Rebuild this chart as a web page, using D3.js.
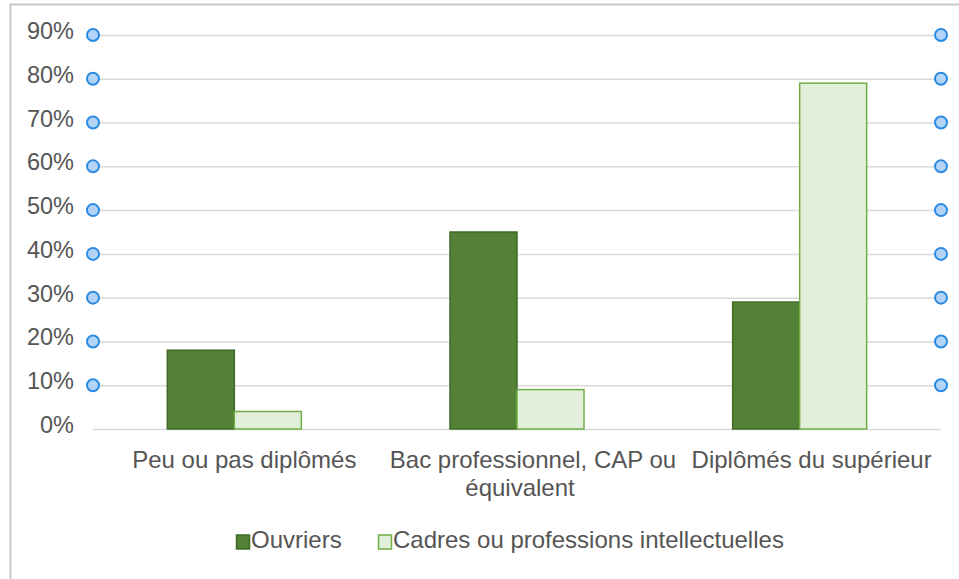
<!DOCTYPE html>
<html lang="fr">
<head>
<meta charset="utf-8">
<script src="https://cdn.jsdelivr.net/npm/d3@7"></script>
<style>
  body { margin: 0; background: #fff; }
  text { font-family: "Liberation Sans", Arial, Helvetica, sans-serif; fill: #555555; }
</style>
</head>
<body>
<svg id="chart" width="959" height="579"></svg>
<script>
var categories = ["Peu ou pas diplômés", "Bac professionnel, CAP ou équivalent", "Diplômés du supérieur"];
var categoryLines = [["Peu ou pas diplômés"], ["Bac professionnel, CAP ou", "équivalent"], ["Diplômés du supérieur"]];
var seriesNames = ["Ouvriers", "Cadres ou professions intellectuelles"];
var ouvriers = [0.18, 0.45, 0.29];
var cadres = [0.04, 0.09, 0.79];
var yTicks = [0, 0.1, 0.2, 0.3, 0.4, 0.5, 0.6, 0.7, 0.8, 0.9];

var fills = ["#538135", "#e2efda"];
var strokes = ["#3f6a27", "#70ad47"];

var svg = d3.select("#chart");

// cadre gris
svg.append("path")
    .attr("d", "M10.5,579 V4.5 H959")
    .attr("fill", "none")
    .attr("stroke", "#c8c8c8")
    .attr("stroke-width", 2);

var plotLeft = 93, plotRight = 941, plotTop = 35, plotBottom = 429;

var x = d3.scaleBand().domain(categories).range([plotLeft, plotRight]);
var y = d3.scaleLinear().domain([0, 0.9]).range([plotBottom, plotTop]);
var barW = 67;

// lignes de grille
svg.selectAll(".grid")
    .data(yTicks)
    .enter()
    .append("line")
    .attr("class", "grid")
    .attr("x1", plotLeft).attr("x2", plotRight)
    .attr("y1", function(d){ return y(d) + 0.5; })
    .attr("y2", function(d){ return y(d) + 0.5; })
    .attr("stroke", "#d9d9d9")
    .attr("stroke-width", 1.5);

// étiquettes axe y
var yAxis = d3.axisLeft(y).tickValues(yTicks).tickFormat(d3.format(".0%")).tickSize(0).tickPadding(0);
var gy = svg.append("g").attr("transform", "translate(74,-4)").call(yAxis);
gy.select(".domain").remove();
gy.selectAll("text")
    .style("font-size", "23.5px")
    .style("font-family", "\"Liberation Sans\", Arial, sans-serif")
    .attr("fill", "#555555");

// barres
var series = [ouvriers, cadres];
series.forEach(function(vals, s){
    svg.selectAll(".bar" + s)
        .data(vals)
        .enter()
        .append("rect")
        .attr("class", "bar" + s)
        .attr("x", function(d, i){ return x(categories[i]) + x.bandwidth()/2 - barW + s*barW; })
        .attr("y", function(d){ return y(d); })
        .attr("width", barW)
        .attr("height", function(d){ return plotBottom - y(d); })
        .attr("fill", fills[s])
        .attr("stroke", strokes[s])
        .attr("stroke-width", 1.5);
});

// cercles bleus aux graduations
[plotLeft, plotRight].forEach(function(cx, k){
    svg.selectAll(".dot" + k)
        .data(yTicks.filter(function(d){ return d > 0; }))
        .enter()
        .append("circle")
        .attr("class", "dot" + k)
        .attr("cx", cx)
        .attr("cy", function(d){ return y(d); })
        .attr("r", 6)
        .attr("fill", "#b3d4f7")
        .attr("stroke", "#2b8ae2")
        .attr("stroke-width", 2);
});

// étiquettes catégories
var lineDx = [[10], [16, 3], [12]];
categoryLines.forEach(function(lines, i){
    var t = svg.append("text")
        .attr("text-anchor", "middle")
        .style("font-size", "24px");
    lines.forEach(function(l, j){
        t.append("tspan")
            .attr("x", x(categories[i]) + x.bandwidth()/2 + lineDx[i][j])
            .attr("y", 468 + j*28)
            .text(l);
    });
});

// légende
var legendX = [236, 378];
seriesNames.forEach(function(n, s){
    svg.append("rect")
        .attr("x", legendX[s] + 0.5).attr("y", 535)
        .attr("width", 13).attr("height", 14)
        .attr("fill", fills[s])
        .attr("stroke", strokes[s])
        .attr("stroke-width", 1.5);
    svg.append("text")
        .attr("x", legendX[s] + 15)
        .attr("y", 548)
        .style("font-size", "24px")
        .text(n);
});
</script>
</body>
</html>
